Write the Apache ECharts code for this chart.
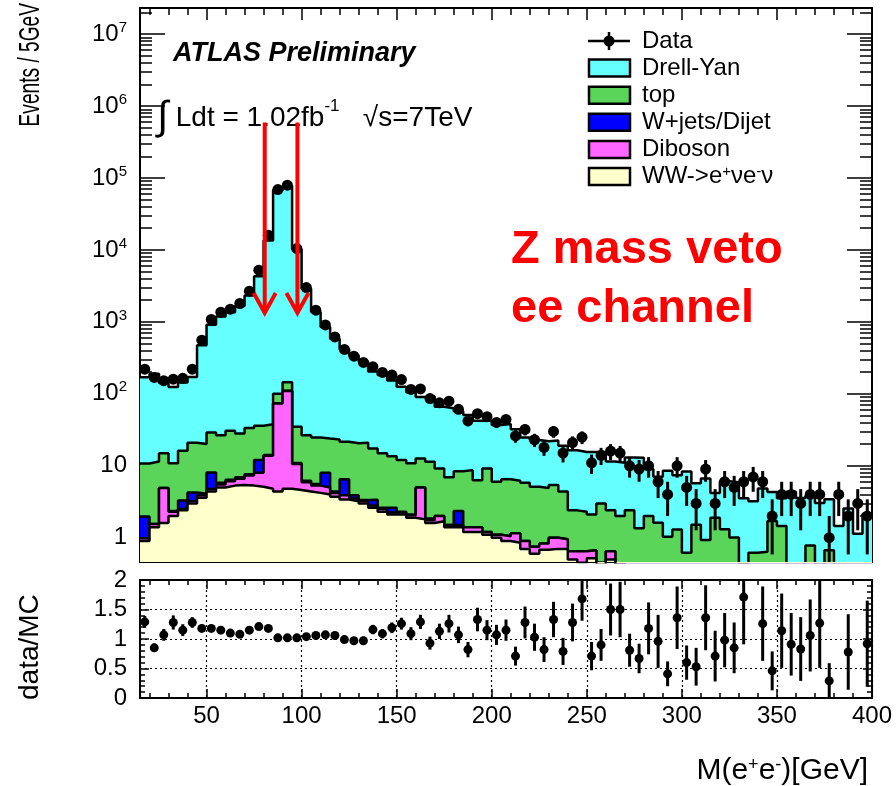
<!DOCTYPE html>
<html><head><meta charset="utf-8">
<script src="https://cdn.jsdelivr.net/npm/echarts@6/dist/echarts.min.js"></script>
<style>html,body{margin:0;padding:0;background:#fff}#c{width:896px;height:786px}</style>
</head><body><div id="c"></div>
<script>
// ---------------- data ----------------
const binEdges = [15,20,25,30,35,40,45,50,55,60,65,70,75,80,85,90,95,100,105,110,115,120,125,130,135,140,145,150,155,160,165,170,175,180,185,190,195,200,205,210,215,220,225,230,235,240,245,250,255,260,265,270,275,280,285,290,295,300,305,310,315,320,325,330,335,340,345,350,355,360,365,370,375,380,385,390,395,400];

const dataCounts = [220,169,152,160,164,220,557,1080,1364,1500,1800,2670,5220,16000,68900,79300,10450,3000,1455,908,618,
  414,334,273,237,198,182,158,115,117,86,75,79,61,42,53,48,40,44,26,32,
  23,18,30,15,21,25,11,14,16,15,10,9,10,6,4,10,5,3,
  9,3,6,5,6,7,6,2,4,4,3,4,4,1,4,2,3,2];

const wwVals = [0.9,1.4,1.6,2.0,2.4,3.0,3.6,4.4,5.0,5.3,5.4,5.3,5.1,4.8,4.4,4.8,4.6,4.4,4.2,4.0,3.7,
  3.4,3.2,3.0,2.6,2.3,2.1,2.1,1.9,1.8,1.6,1.7,1.4,1.4,1.2,1.2,1.1,1.0,0.9,0.85,0.7,
  0.6,0.68,0.7,0.7,0.5,0.45,0.52,0.4,0.5,0.38,0.35,0.33,0.3,0.3,0.28,0.25,0.25,0.22,
  0.2,0.2,0.18,0.18,0.16,0.15,0.15,0.14,0.13,0.12,0.12,0.11,0.1,0.1,0.1,0.09,0.09,0.08];

const dibosonVals = [0.08,0.15,3.3,0.3,0.1,0.25,0.3,0.35,0.5,0.8,1.2,2.0,2.9,9.0,69,105,6.0,1.5,1.1,1.0,0.5,
  0.5,0.3,0.25,0.2,0.2,0.15,0.15,0.15,3.2,0.15,0.3,0.1,0.1,0.2,0.2,0.1,0.1,0.15,0.3,0.2,
  0.15,0.15,0.3,0.25,0.15,0.2,0.15,0.05,0.15,0.05,0.05,0.05,0.05,0.05,0.05,0.05,0.05,0.05,
  0.05,0.05,0.05,0.05,0.05,0.05,0.05,0.05,0.05,0.05,0.05,0.05,0.05,0.05,0.05,0.05,0.05,0.05];

const wjetsVals = [1.0,0,0,0.05,0.8,1.0,0.2,3.3,0.3,0.3,0.3,0.3,4.0,0.3,0.5,0.5,0.3,0.3,0.3,3.0,0.2,
  2.6,0.4,0.1,0.56,0.1,0.36,0.05,0.05,0,0.1,0,0,0.85,0,0,0,0,0,0,0,
  0,0,0,0,0,0,0,0,0,0,0,0,0,0,0,0,0,0,
  0,0,0,0,0,0,0,0,0,0,0,0,0,0,0,0,0,0];

const topVals = [8.8,9.9,10.0,8.45,12.9,16.7,16.0,21.0,20.8,24.2,21.3,26.0,23.9,23.7,26.1,34.7,23.9,20.4,19.1,15.9,18.8,
  15.1,16.6,17.5,14.0,12.3,11.0,9.7,8.7,7.6,9.55,7.2,5.4,6.05,7.3,4.9,8.0,4.9,5.45,5.05,4.9,
  4.35,4.07,4.4,3.45,1.75,1.65,1.43,2.55,1.75,1.57,2.0,0.97,1.65,1.27,0.7,1.0,0.32,1.25,
  0.68,1.64,1.08,0.78,0.22,0.42,0.44,1.52,1.27,0.1,0.1,0.62,0.1,0.52,0.1,0.1,0.1,0.1];

const dyVals = [159,179,127,114,127,151,452,886,1159,1333,1639,2288,4278,13520,67450,77600,10210,2858,1348,825,560,
  396,323,260,187,167,139,113,94,78,81,57,56,49,42,36,33,31,31.5,26,19,
  17.7,17.1,17.1,14.6,14,13.2,13.4,12.5,9.1,9.0,10.6,11.6,7.0,5.4,7.5,6.1,7.7,4.2,
  5.7,2.3,4.8,4.9,3.1,2.6,4.2,2.6,2.1,4.1,3.3,3.05,2.8,2.76,1.2,2.3,0.9,1.9];

const ratioVals = [1.29,0.85,1.07,1.28,1.15,1.28,1.18,1.18,1.15,1.10,1.08,1.15,1.21,1.18,1.02,1.02,1.02,1.04,1.06,1.07,1.06,
  0.99,0.97,0.97,1.16,1.09,1.19,1.26,1.09,1.29,0.93,1.13,1.26,1.07,0.82,1.33,1.15,1.07,1.15,0.71,1.28,
  1.03,0.82,1.33,0.79,1.28,1.68,0.71,0.90,1.50,1.50,0.81,0.67,1.18,0.96,0.41,1.36,0.60,0.53,
  1.36,0.71,0.98,0.85,1.71,null,1.26,0.46,1.14,0.91,0.83,1.06,1.27,0.29,null,0.78,null,0.92];

const ratioErrs = [0.10,0.07,0.10,0.12,0.10,0.09,0.05,0.04,0.03,0.03,0.03,0.03,0.02,0.01,0.01,0.01,0.01,0.02,0.03,0.04,0.05,
  0.06,0.06,0.07,0.08,0.08,0.09,0.10,0.11,0.12,0.11,0.13,0.15,0.14,0.13,0.20,0.17,0.17,0.18,0.16,0.27,
  0.23,0.21,0.30,0.23,0.32,0.37,0.24,0.27,0.44,0.47,0.28,0.25,0.44,0.45,0.21,0.53,0.29,0.32,
  0.55,0.43,0.46,0.43,0.80,0,0.63,0.33,0.63,0.53,0.54,0.61,0.76,0.30,0,0.64,0,0.73];

const zVetoEdges = [80.6, 97.8];
const arrowTop = 5.9e5, arrowBottom = 1330;

const xTickLabels = ['50','100','150','200','250','300','350','400'];
const legendLabels = ['Data','Drell-Yan','top','W+jets/Dijet','Diboson','WW->e{sup|+}νe{sup|-}ν'];

// ---------------- styling ----------------
const FONT = "'Liberation Sans', Arial, Helvetica, sans-serif";
const C_DY = '#66ffff', C_TOP = '#5ad55a', C_WJ = '#0000ff', C_DB = '#ff66ff', C_WW = '#ffffcc';
const Y_MIN = 0.46, Y_MAX = 2.3e7;

const centers = dataCounts.map((_, i) => (binEdges[i] + binEdges[i + 1]) / 2);
function stepData(vals) { return binEdges.map((e, i) => [e, vals[Math.min(i, vals.length - 1)]]); }

// stack order bottom -> top
const layers = [
  {name: 'WW', vals: wwVals, color: C_WW},
  {name: 'Diboson', vals: dibosonVals, color: C_DB},
  {name: 'W+jets/Dijet', vals: wjetsVals, color: C_WJ},
  {name: 'top', vals: topVals, color: C_TOP},
  {name: 'Drell-Yan', vals: dyVals, color: C_DY}
];
// cumulative stack (what THStack draws)
let running = wwVals.map(() => 0);
const cumLayers = layers.map(l => {
  running = running.map((s, i) => s + l.vals[i]);
  return {name: l.name, color: l.color, cum: running.slice()};
});

const stackSeries = cumLayers.map((l, k) => ({
  type: 'line', name: l.name, step: 'end', xAxisIndex: 0, yAxisIndex: 0,
  data: stepData(l.cum), symbol: 'none', showSymbol: false, z: 2 + (cumLayers.length - k), clip: true,
  lineStyle: {color: '#000', width: 2.5}, itemStyle: {color: '#000'},
  areaStyle: {color: l.color, opacity: 1, origin: 'start'}, silent: true
}));

const dataPts = dataCounts.map((n, i) => [centers[i], n]);
const dataErrBars = dataCounts.map((n, i) => [centers[i], Math.max(n - Math.sqrt(n), 0.01), n + Math.sqrt(n)]);
const ratioPts = [], ratioBars = [];
ratioVals.forEach((r, i) => {
  if (r === null) return;
  ratioPts.push([centers[i], r]);
  ratioBars.push([centers[i], r - ratioErrs[i], r + ratioErrs[i]]);
});

function vbar(lw) {
  return function (params, api) {
    const p1 = api.coord([api.value(0), api.value(1)]);
    const p2 = api.coord([api.value(0), api.value(2)]);
    return {type: 'line', shape: {x1: p1[0], y1: p1[1], x2: p2[0], y2: p2[1]}, style: {stroke: '#000', lineWidth: lw}};
  };
}

const tickStyle = {color: '#000', width: 1.5};
const axisLineStyle = {show: true, onZero: false, lineStyle: {color: '#000', width: 2}};

function xAxisDef(grid, pos, showLabels, split) {
  return {
    type: 'value', gridIndex: grid, position: pos, min: 15, max: 400, minInterval: 50, maxInterval: 50, splitNumber: 8,
    axisLine: axisLineStyle,
    axisTick: {show: true, inside: true, length: grid === 0 ? 12 : 9, lineStyle: tickStyle},
    minorTick: {show: true, splitNumber: 5, length: grid === 0 ? 7 : 5, lineStyle: tickStyle},
    splitLine: {show: split, lineStyle: {color: '#000', type: [2, 3], width: 1.2}},
    axisLabel: {show: showLabels, showMinLabel: false, showMaxLabel: true, fontSize: 24, fontFamily: FONT, color: '#000', margin: 6,
      formatter: v => (xTickLabels.indexOf(String(v)) >= 0 ? String(v) : '')}
  };
}

function logLabel(v) {
  const lg = Math.log10(v);
  const e = Math.round(lg);
  if (Math.abs(lg - e) > 1e-6) return '';
  if (e === 0) return '1';
  if (e === 1) return '10';
  return '10{sup|' + e + '}';
}

function yLogDef(pos, showLabels) {
  return {
    type: 'log', logBase: 10, gridIndex: 0, position: pos, min: Y_MIN, max: Y_MAX,
    axisLine: axisLineStyle,
    axisTick: {show: true, inside: true, length: 25, lineStyle: tickStyle},
    minorTick: {show: true, splitNumber: 9, length: 12, lineStyle: tickStyle},
    splitLine: {show: false},
    axisLabel: {show: showLabels, showMinLabel: false, showMaxLabel: false, fontSize: 24, fontFamily: FONT, color: '#000', margin: 13,
      lineHeight: 28, formatter: logLabel,
      rich: {sup: {fontSize: 15, fontFamily: FONT, color: '#000', verticalAlign: 'top', lineHeight: 15}}}
  };
}

function yRatioDef(pos, showLabels) {
  return {
    type: 'value', gridIndex: 1, position: pos, min: 0, max: 2, interval: 0.5,
    axisLine: axisLineStyle,
    axisTick: {show: true, inside: true, length: 9, lineStyle: tickStyle},
    minorTick: {show: true, splitNumber: 5, length: 5, lineStyle: tickStyle},
    splitLine: {show: showLabels, lineStyle: {color: '#000', type: [2, 3], width: 1.2}},
    axisLabel: {show: showLabels, fontSize: 24, fontFamily: FONT, color: '#000', margin: 13, formatter: v => String(v)}
  };
}

// legend built as graphic
const legendColors = [null, C_DY, C_TOP, C_WJ, C_DB, C_WW];
const legendGraphics = [];
legendLabels.forEach((lab, k) => {
  const yc = 41 + 27.1 * k;
  if (k === 0) {
    legendGraphics.push({type: 'line', shape: {x1: 588, y1: yc, x2: 630, y2: yc}, style: {stroke: '#000', lineWidth: 2.5}});
    legendGraphics.push({type: 'line', shape: {x1: 609, y1: yc - 9, x2: 609, y2: yc + 9}, style: {stroke: '#000', lineWidth: 2.5}});
    legendGraphics.push({type: 'circle', shape: {cx: 609, cy: yc, r: 5.5}, style: {fill: '#000'}});
  } else {
    legendGraphics.push({type: 'rect', shape: {x: 589, y: yc - 8.5, width: 41, height: 17}, style: {fill: legendColors[k], stroke: '#000', lineWidth: 2.5}});
  }
  legendGraphics.push({type: 'text', x: 642, y: yc, style: {text: lab, fontSize: 24, fontFamily: FONT, fill: '#000', verticalAlign: 'middle',
    rich: {sup: {fontSize: 15, fontFamily: FONT, fill: '#000', verticalAlign: 'top', lineHeight: 14}}}});
});

const option = {
  animation: false,
  backgroundColor: '#fff',
  grid: [
    {left: 140, top: 8, width: 732, height: 554, containLabel: false},
    {left: 140, top: 580, width: 732, height: 118, containLabel: false}
  ],
  xAxis: [xAxisDef(0, 'bottom', false, false), xAxisDef(0, 'top', false, false), xAxisDef(1, 'bottom', true, true), xAxisDef(1, 'top', false, false)],
  yAxis: [yLogDef('left', true), yLogDef('right', false), yRatioDef('left', true), yRatioDef('right', false)],
  series: [
    ...stackSeries,
    {type: 'custom', name: 'dataErr', xAxisIndex: 0, yAxisIndex: 0, z: 10, clip: true, silent: true, data: dataErrBars, renderItem: vbar(3)},
    {type: 'scatter', name: 'Data', xAxisIndex: 0, yAxisIndex: 0, z: 11, symbol: 'circle', symbolSize: 11, itemStyle: {color: '#000', opacity: 1}, data: dataPts, silent: true},
    {type: 'custom', name: 'arrows', xAxisIndex: 0, yAxisIndex: 0, z: 12, silent: true,
      data: zVetoEdges.map(x => [x, arrowTop, arrowBottom]),
      renderItem: function (params, api) {
        const t = api.coord([api.value(0), api.value(1)]);
        const b = api.coord([api.value(0), api.value(2)]);
        return {type: 'group', children: [
          {type: 'line', shape: {x1: t[0], y1: t[1], x2: b[0], y2: b[1]}, style: {stroke: '#ff0000', lineWidth: 4}},
          {type: 'polyline', shape: {points: [[b[0] - 11, b[1] - 20], [b[0], b[1]], [b[0] + 11, b[1] - 20]]}, style: {stroke: '#ff0000', lineWidth: 4, fill: null}}
        ]};
      }},
    {type: 'custom', name: 'ratioErr', xAxisIndex: 2, yAxisIndex: 2, z: 10, clip: true, silent: true, data: ratioBars, renderItem: vbar(3)},
    {type: 'scatter', name: 'ratio', xAxisIndex: 2, yAxisIndex: 2, z: 11, symbol: 'circle', symbolSize: 9, itemStyle: {color: '#000', opacity: 1}, data: ratioPts, silent: true, clip: true}
  ],
  graphic: [
    ...legendGraphics,
    {type: 'text', x: 31, y: 3, rotation: Math.PI / 2, scaleX: 0.66, style: {text: 'Events / 5GeV', fontSize: 29, fontFamily: FONT, fill: '#000', align: 'right', verticalAlign: 'middle'}},
    {type: 'text', x: 30, y: 700, rotation: Math.PI / 2, style: {text: 'data/MC', fontSize: 28, fontFamily: FONT, fill: '#000', align: 'left', verticalAlign: 'middle'}},
    {type: 'text', x: 868, y: 771, style: {text: 'M(e{sup|+}e{sup|-})[GeV]', fontSize: 30, fontFamily: FONT, fill: '#000', align: 'right', verticalAlign: 'middle',
      rich: {sup: {fontSize: 18, fontFamily: FONT, fill: '#000', verticalAlign: 'top', lineHeight: 16}}}},
    {type: 'text', x: 173, y: 54, style: {text: 'ATLAS Preliminary', fontSize: 27, fontWeight: 'bold', fontStyle: 'italic', fontFamily: FONT, fill: '#000', verticalAlign: 'middle'}},
    {type: 'text', x: 157, y: 118, style: {text: '{int|∫} Ldt = 1.02fb{sup|-1}   √s=7TeV', fontSize: 28, fontFamily: FONT, fill: '#000', verticalAlign: 'middle',
      rich: {int: {fontSize: 40, fontFamily: FONT, fill: '#000'}, sup: {fontSize: 17, fontFamily: FONT, fill: '#000', verticalAlign: 'top', lineHeight: 16}}}},
    {type: 'text', x: 511, y: 250, style: {text: 'Z mass veto', fontSize: 47, fontWeight: 'bold', fontFamily: FONT, fill: '#ff0000', verticalAlign: 'middle'}},
    {type: 'text', x: 511, y: 309, style: {text: 'ee channel', fontSize: 47, fontWeight: 'bold', fontFamily: FONT, fill: '#ff0000', verticalAlign: 'middle'}}
  ]
};

const chart = echarts.init(document.getElementById('c'), null, {renderer: 'canvas'});
chart.setOption(option);
</script>
</body></html>
